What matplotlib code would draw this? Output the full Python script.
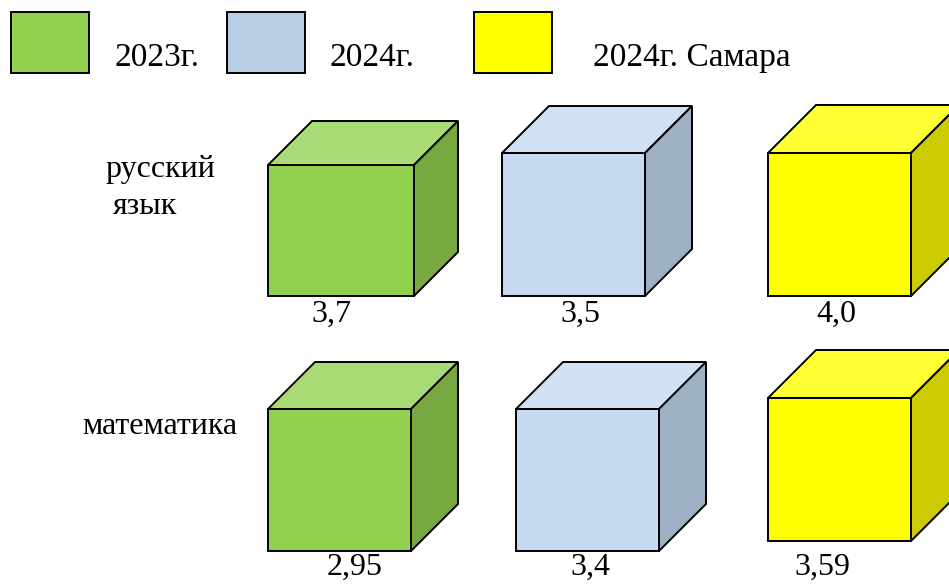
import matplotlib
matplotlib.use('Agg')
import matplotlib.pyplot as plt
from matplotlib.patches import Polygon, Rectangle

# Данные
predmety = ['русский язык', 'математика']
serii = ['2023г.', '2024г.', '2024г. Самара']
znacheniya = [[3.7, 3.5, 4.0],
              [2.95, 3.4, 3.59]]
podpisi = [['3,7', '3,5', '4,0'],
           ['2,95', '3,4', '3,59']]

# Цвета: лицевая грань, верх, бок
cveta_front = ['#92D050', '#C6D9F1', '#FFFF00']
cveta_top = ['#A9DC76', '#D1E1F3', '#FFFF33']
cveta_side = ['#77A940', '#9EB0C4', '#CCCC00']
cveta_legend = ['#92D050', '#B9CDE5', '#FFFF00']

# Раскладка кубов (пиксели): левый край, верх, низ, ширина, глубина
kub_left = [[268, 502, 768], [268, 516, 768]]
kub_top = [[165, 153, 153], [409, 409, 398]]
kub_bottom = [[296, 296, 296], [551, 551, 541]]
kub_w = [[146, 143, 143], [143, 143, 143]]
kub_d = [[44, 47, 48], [47, 47, 48]]

plt.rcParams['font.family'] = ['Liberation Serif', 'DejaVu Serif']

fig = plt.figure(figsize=(9.49, 5.85), dpi=100)
ax = fig.add_axes([0, 0, 1, 1])
ax.set_xlim(0, 949)
ax.set_ylim(585, 0)
ax.axis('off')


def kub(x, top, bottom, w, d, i):
    kw = dict(edgecolor='black', linewidth=1.4, joinstyle='miter')
    ax.add_patch(Polygon([(x, top), (x + d, top - d), (x + w + d, top - d), (x + w, top)],
                         facecolor=cveta_top[i], **kw))
    ax.add_patch(Polygon([(x + w, top), (x + w + d, top - d), (x + w + d, bottom - d), (x + w, bottom)],
                         facecolor=cveta_side[i], **kw))
    ax.add_patch(Rectangle((x, top), w, bottom - top, facecolor=cveta_front[i], **kw))


for r in range(len(predmety)):
    for i in range(len(serii)):
        kub(kub_left[r][i], kub_top[r][i], kub_bottom[r][i], kub_w[r][i], kub_d[r][i], i)

# Подписи значений
lab_x = [[331, 580, 836], [355, 590, 822]]
lab_y = [314, 567]
for r in range(len(predmety)):
    for i in range(len(serii)):
        ax.text(lab_x[r][i], lab_y[r], podpisi[r][i], fontsize=23,
                ha='center', va='center')

# Названия предметов
slova = predmety[0].split(' ')
ax.text(105, 177, slova[0], fontsize=23, ha='left', va='baseline')
ax.text(113, 214, slova[1], fontsize=23, ha='left', va='baseline')
ax.text(82, 434, predmety[1], fontsize=23, ha='left', va='baseline')

# Легенда
leg_x = [11, 227, 474]
txt_x = [115, 330, 593]
for i, s in enumerate(serii):
    ax.add_patch(Rectangle((leg_x[i], 12), 78, 61, facecolor=cveta_legend[i],
                           edgecolor='black', linewidth=1.4))
    ax.text(txt_x[i], 66, s, fontsize=24, ha='left', va='baseline')

fig.savefig('out.png', dpi=100)
